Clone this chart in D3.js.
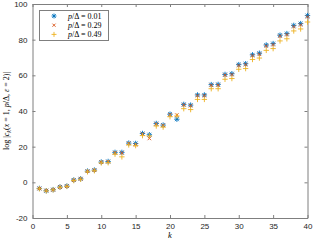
<!DOCTYPE html>
<html>
<head>
<meta charset="utf-8">
<script src="https://cdn.jsdelivr.net/npm/d3@7"></script>
<style>
	body { margin: 0; background: #fff; }
	#canvas { width: 314px; height: 241px; }
	.tick text { font-family: "Liberation Sans", Arial, sans-serif; font-size: 8px; fill: #262626; }
	.serif { font-family: "Liberation Serif", "DejaVu Serif", serif; fill: #000; }
</style>
</head>
<body>
<div id="canvas"></div>
<script>
// harmonic index k
var ks = d3.range(1, 41);

// log |c_k| for each p/Delta
var seriesNames = ['0.01', '0.29', '0.49'];
var vals001 = [-3.4, -4.7, -4.1, -2.6, -2.1, 1.3, 2.0, 6.3, 6.9, 11.4,
	11.7, 16.8, 16.8, 22.0, 21.8, 27.4, 26.7, 33.0, 32.1, 38.2,
	35.4, 43.7, 43.3, 49.0, 49.0, 54.8, 54.9, 60.5, 60.9, 66.0,
	66.5, 71.5, 72.4, 77.0, 77.8, 82.5, 83.4, 88.0, 89.0, 93.5];
var vals029 = [-3.5, -4.6, -4.2, -2.7, -2.2, 1.2, 1.9, 6.2, 6.8, 11.3,
	11.6, 16.6, 16.5, 21.8, 21.0, 27.1, 24.6, 32.7, 31.9, 37.9,
	37.7, 43.4, 43.0, 48.6, 48.6, 54.4, 54.5, 60.1, 60.4, 65.5,
	66.0, 71.0, 71.8, 76.4, 77.2, 81.9, 82.8, 87.3, 88.3, 92.8];
var vals049 = [-3.6, -4.8, -4.2, -2.8, -2.3, 1.0, 1.7, 5.9, 6.5, 10.9,
	11.0, 15.8, 14.3, 21.0, 20.6, 26.2, 26.0, 31.6, 31.0, 36.8,
	37.2, 41.3, 40.8, 46.5, 46.5, 52.5, 52.5, 57.8, 58.2, 63.4,
	63.8, 68.9, 69.7, 74.0, 75.0, 79.3, 80.5, 84.9, 86.0, 89.9];

var xTicks = [0, 5, 10, 15, 20, 25, 30, 35, 40];
var yTicks = [-20, 0, 20, 40, 60, 80, 100];

var colors = ['#0072BD', '#D95319', '#EDB120'];
var markers = ['star', 'cross', 'plus'];

var width = 314, height = 241,
	margin = { left: 32.5, right: 6.5, top: 4, bottom: 23 };

var svg = d3.select('#canvas').append('svg')
	.attr('width', width)
	.attr('height', height);

var x = d3.scaleLinear().domain([0, 40]).range([margin.left, width - margin.right]),
	y = d3.scaleLinear().domain([-20, 100]).range([height - margin.bottom, margin.top]);

// axes, MATLAB style box with inward ticks
var axisColor = '#7f7f7f';
var fmt = function(d) { return String(d); };
function styleAxis(g) {
	g.select('.domain').attr('stroke', axisColor);
	g.selectAll('.tick line').attr('stroke', axisColor);
}
function noLabels(g) {
	g.selectAll('.tick text').remove();
}
svg.append('g')
	.attr('transform', 'translate(0,' + y(-20) + ')')
	.call(d3.axisBottom(x).tickValues(xTicks).tickFormat(fmt).tickSizeInner(-3).tickSizeOuter(0).tickPadding(5))
	.call(styleAxis);
svg.append('g')
	.attr('transform', 'translate(0,' + y(100) + ')')
	.call(d3.axisTop(x).tickValues(xTicks).tickSizeInner(-3).tickSizeOuter(0))
	.call(styleAxis)
	.call(noLabels);
svg.append('g')
	.attr('transform', 'translate(' + x(0) + ',0)')
	.call(d3.axisLeft(y).tickValues(yTicks).tickFormat(fmt).tickSizeInner(-3).tickSizeOuter(0).tickPadding(5))
	.call(styleAxis);
svg.append('g')
	.attr('transform', 'translate(' + x(40) + ',0)')
	.call(d3.axisRight(y).tickValues(yTicks).tickSizeInner(-3).tickSizeOuter(0))
	.call(styleAxis)
	.call(noLabels);

// marker shapes
function markerPath(type, r) {
	var plus = 'M' + (-r) + ',0L' + r + ',0M0,' + (-r) + 'L0,' + r,
		d = r * 0.72,
		cross = 'M' + (-d) + ',' + (-d) + 'L' + d + ',' + d + 'M' + (-d) + ',' + d + 'L' + d + ',' + (-d);
	if (type === 'plus') return plus;
	if (type === 'cross') return cross;
	return plus + cross;
}

var allSeries = [vals001, vals029, vals049];
allSeries.forEach(function(vals, s) {
	svg.append('g').selectAll('path')
		.data(vals)
		.enter()
		.append('path')
		.attr('transform', function(d, i) { return 'translate(' + x(ks[i]) + ',' + y(d) + ')'; })
		.attr('d', markerPath(markers[s], s === 1 ? 2.4 : 2.7))
		.attr('fill', 'none')
		.attr('stroke', colors[s])
		.attr('stroke-width', 0.9);
});

// legend
var legend = svg.append('g');
legend.append('rect')
	.attr('x', 39.5).attr('y', 10.5)
	.attr('width', 69).attr('height', 30)
	.attr('fill', '#fff')
	.attr('stroke', axisColor)
	.attr('stroke-width', 1);
seriesNames.forEach(function(name, s) {
	var ly = 16 + s * 9.2;
	legend.append('path')
		.attr('transform', 'translate(54,' + ly + ')')
		.attr('d', markerPath(markers[s], s === 1 ? 2.2 : 2.5))
		.attr('fill', 'none')
		.attr('stroke', colors[s])
		.attr('stroke-width', 0.9);
	var t = legend.append('text')
		.attr('class', 'serif')
		.attr('x', 68)
		.attr('y', ly + 3)
		.attr('font-size', '8px');
	t.append('tspan').attr('font-style', 'italic').text('p');
	t.append('tspan').text('/Δ = ' + name);
});

// axis labels
svg.append('text')
	.attr('class', 'serif')
	.attr('x', x(20))
	.attr('y', 238)
	.attr('text-anchor', 'middle')
	.attr('font-size', '8.5px')
	.attr('font-style', 'italic')
	.text('k');

var yl = svg.append('text')
	.attr('class', 'serif')
	.attr('transform', 'translate(9,' + y(40) + ') rotate(-90)')
	.attr('text-anchor', 'middle')
	.attr('font-size', '8px');
yl.append('tspan').text('log |');
yl.append('tspan').attr('font-style', 'italic').text('c');
yl.append('tspan').attr('font-style', 'italic').attr('font-size', '6px').attr('dy', 1.5).text('k');
yl.append('tspan').attr('dy', -1.5).text('(');
yl.append('tspan').attr('font-style', 'italic').text('x');
yl.append('tspan').text(' = 1, ');
yl.append('tspan').attr('font-style', 'italic').text('p');
yl.append('tspan').text('/Δ, ');
yl.append('tspan').attr('font-style', 'italic').text('ε');
yl.append('tspan').text(' = 2)|');
</script>
</body>
</html>
